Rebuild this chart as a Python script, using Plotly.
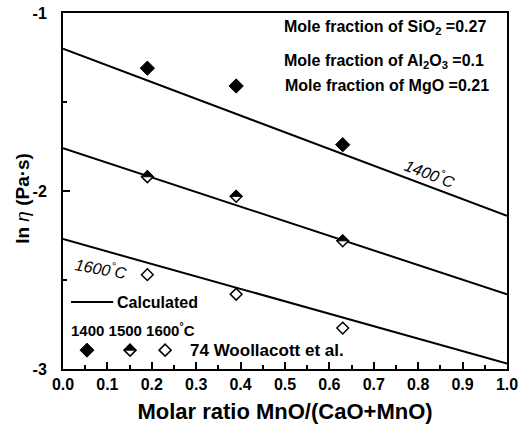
import plotly.graph_objects as go

# Calculated lines (ln eta vs molar ratio), endpoints
line_x = [0.0, 1.0]
calc_1400 = [-1.20, -2.14]
calc_1500 = [-1.76, -2.58]
calc_1600 = [-2.27, -2.97]

# Woollacott et al. measurements
exp_x = [0.19, 0.39, 0.63]
exp_1400 = [-1.31, -1.41, -1.74]
exp_1500 = [-1.92, -2.03, -2.28]
exp_1600 = [-2.47, -2.58, -2.77]

x_ticks = [0.0, 0.1, 0.2, 0.3, 0.4, 0.5, 0.6, 0.7, 0.8, 0.9, 1.0]
y_ticks = [-3, -2, -1]

FONT = "Liberation Sans, Arial, sans-serif"

fig = go.Figure()

for ys in [calc_1400, calc_1500, calc_1600]:
    fig.add_trace(go.Scatter(x=line_x, y=ys, mode="lines",
                             line=dict(color="black", width=2), showlegend=False))

fig.add_trace(go.Scatter(x=exp_x, y=exp_1400, mode="markers", showlegend=False,
                         marker=dict(symbol="diamond", size=11, color="black",
                                     line=dict(color="black", width=1))))
fig.add_trace(go.Scatter(x=exp_x, y=exp_1500, mode="markers", showlegend=False,
                         marker=dict(symbol="diamond", size=9, color="white",
                                     line=dict(color="black", width=1.5))))
fig.add_trace(go.Scatter(x=exp_x, y=exp_1600, mode="markers", showlegend=False,
                         marker=dict(symbol="diamond", size=9, color="white",
                                     line=dict(color="black", width=1.5))))

# top half fill for the 1500 points (half-filled diamond)
half = "M-6,0 L0,6 L6,0 Z"
for xv, yv in zip(exp_x, exp_1500):
    fig.add_shape(type="path", xref="x", yref="y", xsizemode="pixel", ysizemode="pixel",
                  xanchor=xv, yanchor=yv, path=half, fillcolor="black",
                  line=dict(color="black", width=1))

# legend glyphs
fig.add_shape(type="line", xref="paper", yref="paper", x0=0.018, x1=0.113, y0=0.188, y1=0.188,
              line=dict(color="black", width=2))
full = "M-7,0 L0,7 L7,0 L0,-7 Z"
open_d = "M-6,0 L0,6 L6,0 L0,-6 Z"
leg_y = 0.053
fig.add_shape(type="path", xref="paper", yref="paper", xsizemode="pixel", ysizemode="pixel",
              xanchor=0.054, yanchor=leg_y, path=full, fillcolor="black",
              line=dict(color="black", width=1))
fig.add_shape(type="path", xref="paper", yref="paper", xsizemode="pixel", ysizemode="pixel",
              xanchor=0.151, yanchor=leg_y, path=open_d, fillcolor="white",
              line=dict(color="black", width=1.5))
fig.add_shape(type="path", xref="paper", yref="paper", xsizemode="pixel", ysizemode="pixel",
              xanchor=0.151, yanchor=leg_y, path=half, fillcolor="black",
              line=dict(color="black", width=1))
fig.add_shape(type="path", xref="paper", yref="paper", xsizemode="pixel", ysizemode="pixel",
              xanchor=0.230, yanchor=leg_y, path=open_d, fillcolor="white",
              line=dict(color="black", width=1.5))


def note(text, x, y, size=16, xanchor="left", angle=0):
    fig.add_annotation(xref="paper", yref="paper", x=x, y=y, xanchor=xanchor, yanchor="middle",
                       showarrow=False, textangle=angle, text=text,
                       font=dict(family=FONT, size=size, color="black"))


note("<b>Mole fraction of SiO<sub>2</sub> =0.27</b>", 0.493, 0.958)
note("<b>Mole fraction of Al<sub>2</sub>O<sub>3</sub> =0.1</b>", 0.493, 0.865)
note("<b>Mole fraction of MgO =0.21</b>", 0.495, 0.795)
note("<b>Calculated</b>", 0.117, 0.188, size=16)
note("<b>1400 1500 1600<sup>°</sup>C</b>", 0.014, 0.11, size=15)
note("<b>74 Woollacott et al.</b>", 0.281, leg_y, size=17)
note("<i>1400<sup>°</sup>C</i>", 0.827, 0.551, size=16, xanchor="center", angle=21)
note("<i>1600<sup>°</sup>C</i>", 0.086, 0.284, size=16, xanchor="center", angle=10)

# y axis title
note("<b>ln </b><i>η</i><b> (Pa·s)</b>", -0.09, 0.478, size=19, xanchor="center", angle=-90)

tick_font = dict(family=FONT, size=16, color="black", weight="bold")
fig.update_xaxes(range=[0, 1.0], tickvals=x_ticks, ticktext=[f"{v:.1f}" for v in x_ticks],
                 ticks="inside", ticklen=7, tickwidth=2, tickcolor="black",
                 minor=dict(dtick=0.05, ticks="inside", ticklen=4, tickwidth=1.5, tickcolor="black"),
                 showline=True, linecolor="black", linewidth=2, mirror=True, showgrid=False,
                 zeroline=False, tickfont=tick_font, ticklabeloverflow="allow", automargin=False,
                 title=dict(text="<b>Molar ratio MnO/(CaO+MnO)</b>", standoff=11,
                            font=dict(family=FONT, size=22, color="black")))
fig.update_yaxes(range=[-3, -1], tickvals=y_ticks, ticktext=["-3", "-2", "-1"],
                 ticks="inside", ticklen=7, tickwidth=2, tickcolor="black",
                 minor=dict(dtick=0.5, ticks="inside", ticklen=4, tickwidth=1.5, tickcolor="black"),
                 showline=True, linecolor="black", linewidth=2, mirror=True, showgrid=False,
                 zeroline=False, tickfont=tick_font, ticklabelstandoff=11, ticklabeloverflow="allow",
                 automargin=False)
fig.update_layout(width=523, height=431, plot_bgcolor="white", paper_bgcolor="white",
                  margin=dict(l=63, r=16, t=13, b=62), font=dict(family=FONT, color="black"),
                  showlegend=False)

# drop the default 8px page margin so the figure fills the window
fig.write_html("out.html", config={"displayModeBar": False},
               post_script="document.body.style.margin='0px';")
